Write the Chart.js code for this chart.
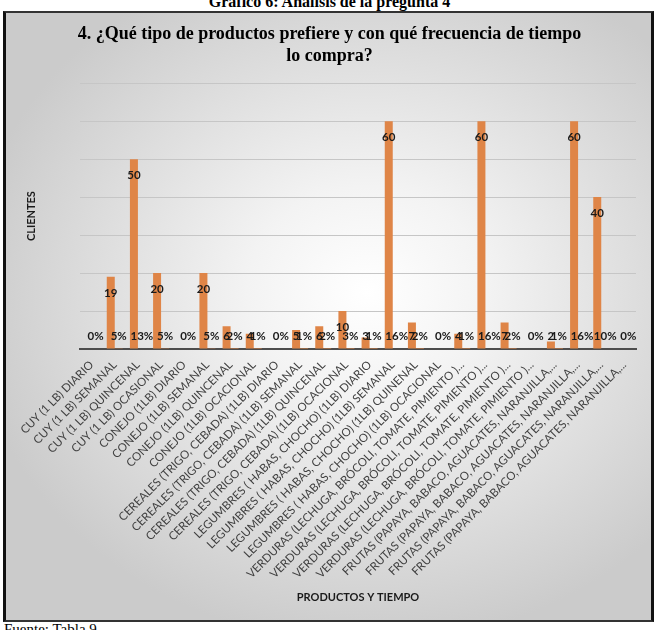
<!DOCTYPE html>
<html lang="es">
<head>
<meta charset="utf-8">
<title>Gráfico 6</title>
<script src="https://cdn.jsdelivr.net/npm/chart.js@4/dist/chart.umd.min.js"></script>
<style>
  html, body { margin: 0; padding: 0; background: #fff; }
  .page { position: relative; width: 659px; height: 630px; overflow: hidden; }
  .caption-top {
    position: absolute; left: 0; width: 659px; top: -7px; text-align: center;
    font: bold 16px "Liberation Serif", "Times New Roman", serif; color: #000;
  }
  .frame {
    position: absolute; left: 3px; top: 11px; width: 645px; height: 607px;
    border: 2px solid #333; border-left: 3px solid #111; border-right: 3px solid #111;
    background: radial-gradient(ellipse 62% 58% at 56% 46%, #ffffff 0%, #f3f3f3 30%, #cbcbcb 100%);
  }
  .caption-bottom {
    position: absolute; left: 4px; top: 621px;
    font: 15px "Liberation Serif", "Times New Roman", serif; color: #000;
  }
  #chart { position: absolute; left: 0; top: 0; }
</style>
</head>
<body>
<div class="page">
  <div class="caption-top">Gráfico 6: Análisis de la pregunta 4</div>
  <div class="frame"></div>
  <div class="caption-bottom">Fuente: Tabla 9</div>
  <canvas id="chart" width="659" height="630"></canvas>
</div>
<script>
// Categories (as shown, already truncated in the original)
const categories = [
  "CUY (1 LB) DIARIO",
  "CUY (1 LB) SEMANAL",
  "CUY (1 LB) QUINCENAL",
  "CUY (1 LB) OCASIONAL",
  "CONEJO (1LB) DIARIO",
  "CONEJO (1LB) SEMANAL",
  "CONEJO (1LB) QUINCENAL",
  "CONEJO (1LB) OCACIONAL",
  "CEREALES (TRIGO, CEBADA) (1LB) DIARIO",
  "CEREALES (TRIGO, CEBADA) (1LB) SEMANAL",
  "CEREALES (TRIGO, CEBADA) (1LB) QUINCENAL",
  "CEREALES (TRIGO, CEBADA) (1LB) OCACIONAL",
  "LEGUMBRES ( HABAS, CHOCHO) (1LB) DIARIO",
  "LEGUMBRES ( HABAS, CHOCHO) (1LB) SEMANAL",
  "LEGUMBRES ( HABAS, CHOCHO) (1LB) QUINENAL",
  "LEGUMBRES ( HABAS, CHOCHO) (1LB) OCACIONAL",
  "VERDURAS (LECHUGA, BRÓCOLI, TOMATE, PIMIENTO )...",
  "VERDURAS (LECHUGA, BRÓCOLI, TOMATE, PIMIENTO )...",
  "VERDURAS (LECHUGA, BRÓCOLI, TOMATE, PIMIENTO )...",
  "VERDURAS (LECHUGA, BRÓCOLI, TOMATE, PIMIENTO )...",
  "FRUTAS (PAPAYA, BABACO, AGUACATES, NARANJILLA,...",
  "FRUTAS (PAPAYA, BABACO, AGUACATES, NARANJILLA,...",
  "FRUTAS (PAPAYA, BABACO, AGUACATES, NARANJILLA,...",
  "FRUTAS (PAPAYA, BABACO, AGUACATES, NARANJILLA,..."
];

// Number of clients per product / frequency
const clientCounts = [0, 19, 50, 20, 0, 20, 6, 4, 0, 5, 6, 10, 3, 60, 7, 0, 4, 60, 7, 0, 2, 60, 40, 0];

// Share of total, as printed on the chart
const clientShares = [0, 0.05, 0.13, 0.05, 0, 0.05, 0.02, 0.01, 0, 0.01, 0.02, 0.03,
                      0.01, 0.16, 0.02, 0, 0.01, 0.16, 0.02, 0, 0.01, 0.16, 0.10, 0];

const yTicks = [0, 10, 20, 30, 40, 50, 60, 70];

const barColor = "#df8547";
const labelFont = "Lato, 'Open Sans', sans-serif";

// Data labels: value near the top of each bar, share just above the axis
const barLabels = {
  id: "barLabels",
  afterDatasetsDraw(chart) {
    const ctx = chart.ctx;
    const base = chart.scales.y.getPixelForValue(0);
    ctx.save();
    ctx.textAlign = "center";
    ctx.textBaseline = "middle";
    ctx.fillStyle = "#1a1a1a";
    ctx.font = "bold 11.5px " + labelFont;

    chart.getDatasetMeta(0).data.forEach((bar, i) => {
      if (!clientCounts[i]) return;
      const y = Math.min(bar.y + 16, base - 13);
      ctx.fillText(String(clientCounts[i]), bar.x, y);
    });

    chart.getDatasetMeta(1).data.forEach((bar, i) => {
      ctx.fillText(Math.round(clientShares[i] * 100) + "%", bar.x, base - 13);
    });
    ctx.restore();
  }
};

new Chart(document.getElementById("chart"), {
  type: "bar",
  data: {
    labels: categories,
    datasets: [
      {
        label: "Clientes",
        data: clientCounts,
        backgroundColor: barColor,
        barPercentage: 1,
        categoryPercentage: 0.69
      },
      {
        label: "Porcentaje",
        data: clientShares,
        backgroundColor: barColor,
        barPercentage: 1,
        categoryPercentage: 0.69
      }
    ]
  },
  options: {
    responsive: false,
    animation: false,
    layout: { padding: { top: 12, right: 23, bottom: 8, left: 23 } },
    plugins: {
      legend: { display: false },
      tooltip: { enabled: false },
      title: {
        display: true,
        text: [
          "4. ¿Qué tipo de productos prefiere y con qué frecuencia de tiempo",
          "lo compra?"
        ],
        color: "#000",
        font: { family: "'Liberation Serif', 'Times New Roman', serif", size: 18, weight: "bold", lineHeight: 1.2 },
        padding: { top: 12, bottom: 16 }
      }
    },
    scales: {
      x: {
        grid: { display: false, drawTicks: false },
        border: { display: true, color: "#4d4d4d", width: 2 },
        ticks: {
          autoSkip: false,
          maxRotation: 45,
          minRotation: 45,
          padding: 9,
          color: "#404040",
          font: { family: labelFont, size: 11.5 }
        },
        title: {
          display: true,
          text: "PRODUCTOS Y TIEMPO",
          color: "#1a1a1a",
          font: { family: labelFont, size: 11, weight: "bold" },
          padding: { top: 0, bottom: 18 }
        },
        afterFit: (scale) => { scale.height = 273; }
      },
      y: {
        min: 0,
        max: 70,
        afterBuildTicks: (scale) => { scale.ticks = yTicks.map((v) => ({ value: v })); },
        grid: {
          color: (c) => (c.tick && c.tick.value === 0 ? "rgba(0,0,0,0)" : "#c6c6c6"),
          lineWidth: 1,
          drawTicks: false
        },
        border: { display: false },
        ticks: { display: false },
        title: {
          display: true,
          text: "CLIENTES",
          color: "#1a1a1a",
          font: { family: labelFont, size: 11, weight: "bold" },
          padding: { top: 2, bottom: 0 }
        },
        afterFit: (scale) => { scale.width = 57; }
      }
    }
  },
  plugins: [barLabels]
});
</script>
</body>
</html>
